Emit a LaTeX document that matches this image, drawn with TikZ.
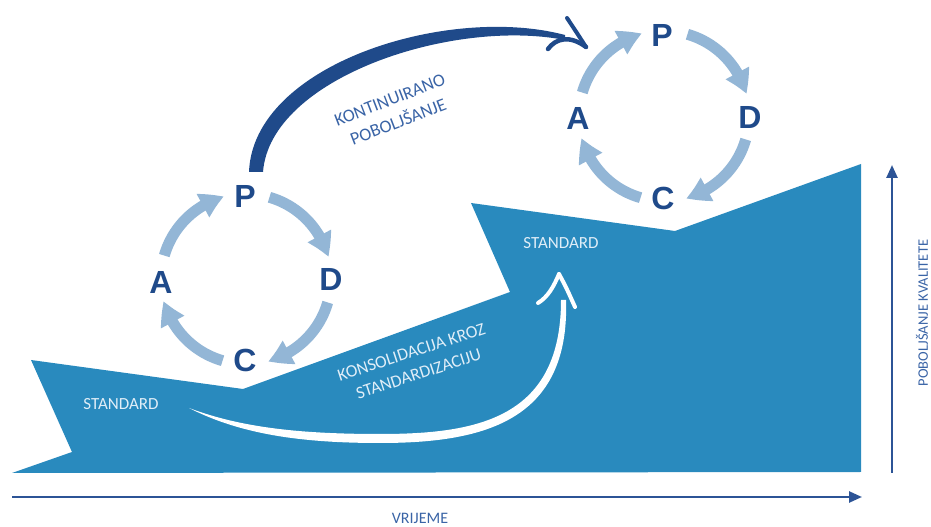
\documentclass[tikz,border=0pt]{standalone}
\usepackage{fontspec}
\setmainfont{Carlito}
\newfontfamily\letterfont{Liberation Sans}
\usetikzlibrary{arrows.meta,bending}
\definecolor{fillblue}{RGB}{41,138,190}
\definecolor{navy}{RGB}{31,74,138}
\definecolor{cycblue}{RGB}{147,182,214}
\definecolor{axisblue}{RGB}{44,84,150}
\definecolor{lblblue}{RGB}{58,100,166}
\definecolor{paletxt}{RGB}{224,238,248}
\begin{document}
\begin{tikzpicture}[x=1pt,y=1pt,
  cycarrow/.style={draw=cycblue, line width=11pt, -{Triangle[width=25pt,length=23pt,bend]}},
  letter/.style={text=navy, font=\letterfont\bfseries\fontsize{32}{32}\selectfont, inner sep=0pt},
  axisline/.style={draw=axisblue, line width=2.5pt, -{Triangle[width=11pt,length=13pt]}},
  axislabel/.style={text=lblblue, inner sep=0pt},
  stdlabel/.style={text=paletxt, inner sep=0pt, font=\fontsize{17}{20}\selectfont},
  darktext/.style={text=lblblue, inner sep=0pt, align=center, font=\fontsize{18}{23.5}\selectfont},
  paletext/.style={text=paletxt, inner sep=0pt, align=center, font=\fontsize{17.5}{23}\selectfont}
]
\useasboundingbox (0,0) rectangle (931,527);

% stepped blue band
\fill[fillblue] (31,167) -- (243,138) -- (510,235) -- (471,324) -- (675,296) -- (861,363) -- (861,55) -- (12,54) -- (72,75) -- cycle;

% axes
\coordinate (xs) at (12,30);
\coordinate (xe) at (862,30);
\coordinate (ys) at (892,54);
\coordinate (ye) at (892,362);
\draw[axisline] (xs) -- (xe);
\draw[axisline] (ys) -- (ye);
\node[axislabel, font=\fontsize{16}{18}\selectfont] (xl) at (420,9) {VRIJEME};
\node[axislabel, font=\fontsize{14.5}{17}\selectfont, rotate=90] (yl) at (922,214) {POBOLJŠANJE KVALITETE};

% labels on band
\node[stdlabel] (std1) at (121,123) {STANDARD};
\node[stdlabel] (std2) at (561,284) {STANDARD};
\node[paletext, rotate=18] (kons) at (415,164) {KONSOLIDACIJA KROZ\\STANDARDIZACIJU};

% white consolidation arrow
\fill[white] (189,119) .. controls (240,93) and (300,84) .. (380,84) .. controls (484,84) and (570,106) .. (566,227) -- (561,227) .. controls (561,109) and (478,93) .. (380,93) .. controls (302,93) and (242,99) .. cycle;
\coordinate (wtip) at (559,253);
\draw[white, line width=4pt, line cap=round] (538,224) .. controls (548,230) and (554,241) .. (wtip);
\draw[white, line width=4pt, line cap=round] (wtip) .. controls (566,240) .. (575,220);

% cycle 1
\coordinate (c1) at (246,248);
\node[letter] (P1) at (245,331) {P};
\node[letter] (D1) at (331,248) {D};
\node[letter] (C1) at (245,167) {C};
\node[letter] (A1) at (161,245) {A};
\draw[cycarrow] ([shift={(74:85)}]c1) arc[start angle=74, end angle=15, radius=85];
\draw[cycarrow] ([shift={(-16:85)}]c1) arc[start angle=-16, end angle=-75, radius=85];
\draw[cycarrow] ([shift={(-106:85)}]c1) arc[start angle=-106, end angle=-165, radius=85];
\draw[cycarrow] ([shift={(164:85)}]c1) arc[start angle=164, end angle=105, radius=85];

% cycle 2
\coordinate (c2) at (664,411);
\node[letter] (P2) at (662,492) {P};
\node[letter] (D2) at (750,410) {D};
\node[letter] (C2) at (663,329) {C};
\node[letter] (A2) at (578,409) {A};
\draw[cycarrow] ([shift={(74:85)}]c2) arc[start angle=74, end angle=15, radius=85];
\draw[cycarrow] ([shift={(-16:85)}]c2) arc[start angle=-16, end angle=-75, radius=85];
\draw[cycarrow] ([shift={(-106:85)}]c2) arc[start angle=-106, end angle=-165, radius=85];
\draw[cycarrow] ([shift={(164:85)}]c2) arc[start angle=164, end angle=105, radius=85];

% continuous improvement arrow
\fill[navy] (249,355) .. controls (253,463) and (448,523) .. (565,492) -- (565,487) .. controls (452,509) and (270,449) .. (263,355) -- cycle;
\coordinate (dtip) at (586,480);
\draw[navy, line width=4pt, line cap=round] (567,509) .. controls (575,497) .. (dtip);
\draw[navy, line width=4.5pt, line cap=round] (548,478) .. controls (556,489) and (570,492) .. (dtip);
\node[darktext, rotate=21] (kont) at (394,416) {KONTINUIRANO\\POBOLJŠANJE};
\end{tikzpicture}
\end{document}
